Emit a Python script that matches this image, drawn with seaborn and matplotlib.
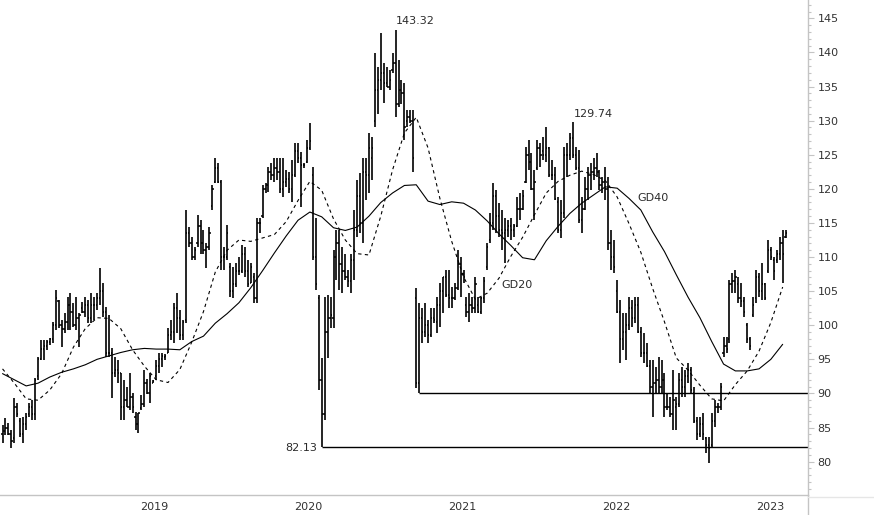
import numpy as np
import pandas as pd
import matplotlib
matplotlib.use("Agg")
import matplotlib.pyplot as plt
import matplotlib.dates as mdates
from matplotlib.ticker import FixedLocator, MultipleLocator
from matplotlib.transforms import ScaledTranslation
from matplotlib.lines import Line2D
import seaborn as sns

sns.set_style("white")
plt.rcParams["font.family"] = ["DejaVu Sans"]

# ---------------- data (weekly OHLC) ----------------
first_week = "2018-02-16"

highs = [
    85.4,86.4,85.7,84.6,89.3,88.6,86.4,86.6,87.1,88.6,89.0,92.2,95.3,97.8,97.8,97.8,98.1,100.5,105.2,103.7,
    100.8,101.8,104.1,104.8,103.2,104.1,101.8,103.4,104.1,103.7,104.7,104.1,104.7,108.4,106.2,102.7,101.5,96.6,95.3,94.9,
    93.0,92.0,90.9,93.0,90.0,87.3,
    87.1,89.7,93.4,92.1,93.0,92.0,94.9,95.9,95.9,95.8,99.6,100.8,103.2,104.7,102.2,100.8,116.9,114.4,112.9,111.4,
    116.1,115.4,114.0,112.1,114.4,120.5,124.6,123.8,121.3,111.4,114.7,109.1,108.5,109.1,110.0,111.7,111.4,109.5,109.1,107.6,
    115.7,115.8,120.5,120.8,123.2,
    123.8,124.5,124.6,124.5,124.6,122.7,122.4,124.2,126.7,126.8,125.4,123.8,127.1,129.6,123.2,115.8,104.4,95.2,104.1,104.4,
    104.1,111.0,114.0,114.0,111.4,110.5,108.1,110.5,116.9,121.3,122.3,124.6,124.6,128.2,127.6,139.9,137.8,142.8,138.4,137.8,
    137.4,139.9,143.32,138.9,135.9,135.5,
    131.5,131.5,131.5,105.4,103.2,102.6,103.2,100.8,102.6,102.6,104.1,106.2,107.1,108.1,108.1,105.6,106.2,111.0,110.0,108.1,
    104.1,104.7,104.1,107.1,104.1,104.1,107.1,112.0,116.4,120.8,119.8,117.9,116.9,115.8,115.4,115.8,114.9,118.8,119.4,119.8,
    126.1,127.1,125.2,122.7,127.1,126.7,
    127.6,129.0,126.1,124.2,123.2,118.8,118.3,126.1,126.7,128.2,129.74,126.1,125.7,118.8,121.7,123.2,123.8,124.6,125.2,122.7,
    121.7,123.2,121.7,114.0,112.5,106.6,103.7,101.8,101.8,104.1,103.7,104.1,104.1,99.7,98.8,97.4,94.9,94.9,93.9,95.3,
    94.9,93.0,90.0,89.5,93.4,
    89.5,93.0,93.9,93.4,94.4,93.9,90.9,86.6,86.6,87.1,83.6,83.6,87.1,89.0,88.6,91.5,98.3,98.3,106.6,107.6,
    108.1,107.1,106.2,104.1,100.3,98.3,104.1,108.1,107.6,109.1,106.2,112.5,111.4,110.0,111.0,112.9,114.0,114.0,
]

lows = [
    82.7,83.9,83.9,82.0,82.7,86.6,83.6,82.7,84.6,86.6,86.1,86.1,92.0,94.9,94.9,96.4,97.1,97.4,99.3,99.6,
    96.8,98.8,99.3,99.3,99.7,99.3,96.8,101.8,101.2,100.3,100.3,100.8,102.2,103.0,101.2,95.3,95.3,89.3,92.4,91.5,
    86.1,86.1,88.0,87.6,87.1,84.6,
    84.2,87.6,88.0,89.9,88.6,91.5,92.0,93.0,93.9,94.9,95.9,97.8,97.4,98.8,97.8,97.8,100.3,111.5,109.6,109.6,
    111.5,110.5,110.5,108.4,111.0,116.9,120.8,120.8,108.1,108.1,109.6,104.1,104.0,105.6,107.4,107.6,107.1,105.6,106.2,103.2,
    103.2,113.5,115.8,119.4,119.5,
    121.3,121.0,121.3,119.4,118.8,120.2,119.4,118.0,121.7,123.8,117.3,123.0,123.8,125.7,109.6,105.2,90.5,82.13,86.1,95.2,
    99.6,99.6,106.6,105.2,104.7,106.6,105.6,104.7,106.6,112.9,113.5,112.0,118.3,119.4,121.3,129.0,131.0,134.5,132.6,134.9,
    134.5,137.0,130.5,132.0,132.5,127.1,
    129.0,129.6,122.5,90.8,90.0,97.4,98.3,97.4,98.3,100.3,98.8,99.7,101.8,104.1,102.6,102.6,103.7,105.2,104.1,106.2,
    101.2,100.5,101.8,101.8,101.8,101.6,103.2,108.1,112.0,114.0,113.5,112.9,111.0,109.1,112.9,112.5,112.9,114.4,115.4,116.9,
    120.8,122.7,119.8,115.4,122.7,123.2,
    124.2,123.9,121.7,121.3,118.3,113.5,112.8,115.8,121.7,124.2,124.6,122.7,115.0,113.5,116.9,118.3,119.8,121.3,121.7,119.8,
    119.4,118.3,111.0,108.1,107.6,101.8,94.4,96.4,94.9,99.3,99.7,100.3,98.8,95.3,94.4,93.9,90.0,86.6,90.0,90.0,
    90.0,86.6,87.6,86.6,84.6,
    84.6,88.0,89.5,89.5,91.5,90.0,85.6,83.2,83.6,83.2,81.2,79.8,82.1,85.1,87.1,87.6,95.3,95.9,97.4,104.7,
    104.7,103.2,102.7,101.2,97.4,96.4,101.2,103.2,104.1,103.7,103.7,107.6,109.6,106.6,109.1,109.6,106.2,112.8,
]

opens = [
    84.0,84.5,85.0,84.0,83.5,88.0,86.0,84.0,85.5,87.0,88.0,87.0,92.5,95.0,96.5,97.0,97.5,98.0,100.0,103.5,
    100.0,99.5,100.5,103.0,102.0,100.0,101.0,102.5,102.0,103.0,101.0,103.0,103.0,104.0,105.0,102.0,96.0,96.0,93.0,93.5,
    93.0,88.0,89.0,88.0,89.5,86.5,
    85.5,87.8,88.5,91.5,90.0,91.6,92.5,94.0,95.0,95.3,96.0,98.5,99.0,102.5,101.0,98.5,100.8,113.5,112.0,110.0,
    112.0,114.5,112.0,111.0,111.5,117.5,121.0,123.0,121.0,110.0,110.0,108.5,105.0,106.0,108.0,108.0,110.5,108.0,106.0,107.0,
    104.0,115.0,116.0,120.0,120.5,
    122.5,122.0,123.0,122.5,120.0,121.0,121.5,120.0,122.0,125.5,124.5,123.5,124.0,126.0,122.0,110.0,104.0,92.0,87.0,99.0,
    101.0,101.0,110.0,112.0,109.0,108.0,107.0,106.5,109.5,114.0,119.0,115.0,122.5,122.0,124.5,130.0,134.5,136.0,137.0,135.5,
    135.0,137.5,138.5,132.5,134.5,134.0,
    130.0,130.5,130.0,104.0,91.5,101.0,99.0,100.0,98.5,101.0,100.5,103.0,105.0,107.0,104.5,104.0,104.0,105.5,109.0,107.5,
    103.0,102.0,103.0,102.5,103.0,102.0,104.0,108.5,112.5,115.0,119.0,116.0,114.0,113.5,114.0,114.5,114.0,114.5,117.0,117.0,
    121.0,125.0,124.0,120.0,123.0,126.0,
    125.5,125.0,126.0,122.0,122.0,118.0,114.0,116.5,125.0,125.0,127.5,125.0,123.0,115.5,117.0,120.0,122.0,122.5,123.0,122.5,
    120.5,121.0,120.0,112.0,110.0,105.0,102.0,98.0,99.0,100.0,102.5,101.0,103.0,99.0,96.0,96.0,94.0,91.0,91.5,92.0,
    91.0,92.0,88.0,88.0,87.0,
    88.0,88.5,92.0,91.0,92.5,93.5,90.0,86.0,84.0,85.5,83.5,82.5,82.5,86.0,88.0,88.0,96.0,97.0,98.0,106.0,
    106.5,106.0,104.0,103.5,100.0,98.0,101.5,104.0,107.0,105.0,106.0,108.0,111.0,109.5,109.5,110.5,112.0,113.0,
]

closes = [
    84.5,85.0,84.0,83.0,88.0,87.0,84.0,85.5,86.5,88.0,87.0,92.0,95.0,96.5,97.0,97.5,98.0,100.0,104.0,100.0,
    99.5,100.5,103.0,102.0,100.0,101.0,101.5,102.0,103.0,101.0,103.0,103.0,104.0,105.0,102.0,96.0,96.0,93.0,93.5,93.0,
    88.0,89.0,88.0,89.5,88.0,85.5,
    87.5,88.5,91.5,90.0,92.5,91.8,94.0,95.0,95.5,95.5,98.5,99.0,102.5,101.0,98.5,100.5,113.5,112.0,110.0,111.0,
    114.5,112.0,111.0,111.5,113.5,120.0,123.0,121.0,110.0,110.0,113.5,105.0,106.0,108.0,108.0,110.5,108.0,106.0,108.5,104.0,
    115.0,115.0,120.0,120.5,122.5,
    122.0,123.0,122.5,120.0,121.0,121.5,120.0,122.0,125.5,124.5,123.5,123.5,126.0,127.0,110.0,106.0,92.0,87.0,99.0,101.0,
    101.5,110.0,112.0,109.0,108.0,107.0,106.5,109.5,114.0,119.0,115.0,122.5,122.0,126.0,126.0,134.5,136.0,137.0,135.5,135.0,
    136.0,138.5,132.5,134.5,134.0,129.0,
    130.5,130.0,124.5,91.5,101.0,99.0,100.0,98.5,101.0,100.8,103.0,105.0,107.0,104.5,104.0,104.0,105.5,109.0,107.5,107.0,
    102.0,103.0,102.5,106.0,102.0,104.0,106.5,111.5,115.0,119.0,116.0,114.0,113.5,114.0,114.5,114.0,114.5,117.0,117.0,119.0,
    125.0,124.0,120.0,121.0,126.0,125.0,
    125.0,126.0,122.0,122.0,118.5,114.0,116.5,125.0,125.0,127.5,125.0,123.0,115.5,117.0,120.0,122.0,122.5,123.0,122.5,120.5,
    121.0,120.0,112.0,110.0,108.5,102.0,98.0,99.0,100.0,102.5,101.0,103.0,99.0,96.0,96.0,94.0,91.0,91.5,92.0,91.0,
    92.0,88.0,88.0,87.0,89.0,
    88.5,92.0,91.0,92.5,93.5,90.5,86.0,84.0,85.5,84.0,82.5,82.0,86.0,88.0,88.0,91.0,97.0,96.5,106.0,106.5,
    107.0,104.0,103.5,102.0,98.0,97.0,103.0,107.0,105.0,106.0,104.0,111.0,110.0,108.0,110.5,112.0,110.5,113.6,
]

# moving averages every 4 weeks
ma_start = "2018-02-16"
gd20 = [93.6,91.5,89.2,89.0,90.5,92.9,96.8,99.5,101.1,101.0,
        99.5,96.4,94.0,92.0,91.6,93.5,97.5,102.0,107.8,111.0,
        112.5,112.3,112.8,113.3,115.2,118.3,121.1,119.8,115.6,112.5,
        110.5,110.3,116.0,122.8,128.2,130.5,126.0,118.6,112.3,107.1,
        103.8,104.7,106.9,110.1,112.9,116.2,119.4,121.1,122.0,122.6,
        122.1,121.2,118.8,114.9,110.7,105.4,100.5,95.2,93.4,91.2,
        89.2,88.9,91.3,93.3,96.2,100.4,105.6]
gd40 = [92.9,92.0,91.1,91.5,92.4,93.1,93.6,94.2,95.0,95.5,
        96.0,96.4,96.6,96.5,96.5,96.4,97.6,98.4,100.3,101.7,
        103.3,105.5,108.0,110.6,113.1,115.4,116.6,115.9,114.3,113.9,
        114.4,116.0,118.0,119.4,120.5,120.6,118.2,117.7,118.1,117.9,
        116.9,115.3,113.4,111.7,109.9,109.6,112.4,114.5,116.4,117.9,
        119.1,120.3,120.1,118.6,116.9,113.7,110.8,107.4,104.1,101.1,
        97.6,94.3,93.3,93.3,93.6,95.0,97.2]

labelled_highs = [143.32, 129.74]
support_lows = [82.13, 90.00]
labelled_supports = [82.13]
y_ticks = list(range(80, 150, 5))

# ---------------- frames ----------------
dates = pd.date_range(first_week, periods=len(closes), freq="7D")
df = pd.DataFrame({"date": dates, "open": opens, "high": highs,
                   "low": lows, "close": closes})
df["open"] = df["open"].clip(df["low"], df["high"])
df["close"] = df["close"].clip(df["low"], df["high"])
ma = pd.DataFrame({"date": pd.date_range(ma_start, periods=len(gd20), freq="28D"),
                   "GD20": gd20, "GD40": gd40})

x_left = pd.Timestamp("2018-02-10")
x_right = pd.Timestamp("2023-05-09")

# ---------------- figure ----------------
W, H = 874, 515
fig = plt.figure(figsize=(W / 100, H / 100), dpi=100)
ax = fig.add_axes([0, 20 / H, 808 / W, 495 / H])

ink = "black"
half = pd.Timedelta(days=2.8)
ax.vlines(df["date"], df["low"], df["high"], color=ink, lw=1.2)
ax.hlines(df["open"], df["date"] - half, df["date"], color=ink, lw=1.1)
ax.hlines(df["close"], df["date"], df["date"] + half, color=ink, lw=1.1)

sns.lineplot(data=ma, x="date", y="GD40", ax=ax, color=ink, lw=0.8)
sns.lineplot(data=ma, x="date", y="GD20", ax=ax, color=ink, lw=0.8)
ax.lines[-1].set_dashes([3, 3])

txt = "#2b2b2b"
for lvl in support_lows:
    i = int(np.argmin(np.abs(df["low"].values - lvl)))
    ax.hlines(lvl, df["date"].iloc[i], x_right, color=ink, lw=1.0)
    if lvl in labelled_supports:
        ax.annotate(f"{lvl:.2f}", (df["date"].iloc[i], lvl), xytext=(-3, -0.5),
                    textcoords="offset points", ha="right", va="center",
                    fontsize=8, color=txt)

for v in labelled_highs:
    i = int(np.argmin(np.abs(df["high"].values - v)))
    ax.annotate(f"{v:.2f}", (df["date"].iloc[i], v), xytext=(0.5, 2.5),
                textcoords="offset points", ha="left", va="bottom",
                fontsize=8, color=txt)

ax.text(pd.Timestamp("2021-05-12"), 105.9, "GD20", ha="left", va="center",
        fontsize=8, color=txt)
ax.text(pd.Timestamp("2022-03-31"), 118.6, "GD40", ha="left", va="center",
        fontsize=8, color=txt)

# ---------------- axes ----------------
ax.set_xlim(x_left, x_right)
ax.set_ylim(75.1, 147.7)
ax.set_xlabel("")
ax.set_ylabel("")

grey = "#c4c4c4"
for s in ["left", "top"]:
    ax.spines[s].set_visible(False)
for s in ["bottom", "right"]:
    ax.spines[s].set_color(grey)
    ax.spines[s].set_linewidth(1.0)

ax.yaxis.tick_right()
ax.yaxis.set_major_locator(FixedLocator(y_ticks))
ax.yaxis.set_minor_locator(MultipleLocator(1))
ax.tick_params(axis="y", which="major", length=4.3, width=0.8, color=grey,
               labelsize=8, labelcolor="#333333", pad=2.7)
ax.tick_params(axis="y", which="minor", length=2.2, width=0.8, color=grey)

ax.xaxis.set_major_locator(mdates.YearLocator())
ax.xaxis.set_major_formatter(mdates.DateFormatter("%Y"))
ax.xaxis.set_minor_locator(mdates.MonthLocator())
ax.tick_params(axis="x", which="major", length=14.4, width=0.8, color=grey,
               labelsize=8, labelcolor="#333333", pad=-9.3)
ax.tick_params(axis="x", which="minor", length=2.4, width=0.8, color=grey)
shift = ScaledTranslation(1.8 / 72, 0, fig.dpi_scale_trans)
for lab in ax.get_xticklabels():
    lab.set_horizontalalignment("left")
    lab.set_transform(lab.get_transform() + shift)

fig.add_artist(Line2D([808 / W, 808 / W], [0, 20 / H], color=grey, lw=1.0,
                      transform=fig.transFigure))
fig.add_artist(Line2D([808 / W, 1], [18 / H, 18 / H], color="#e6e6e6", lw=1.0,
                      transform=fig.transFigure))

fig.savefig("out.png", dpi=100)
